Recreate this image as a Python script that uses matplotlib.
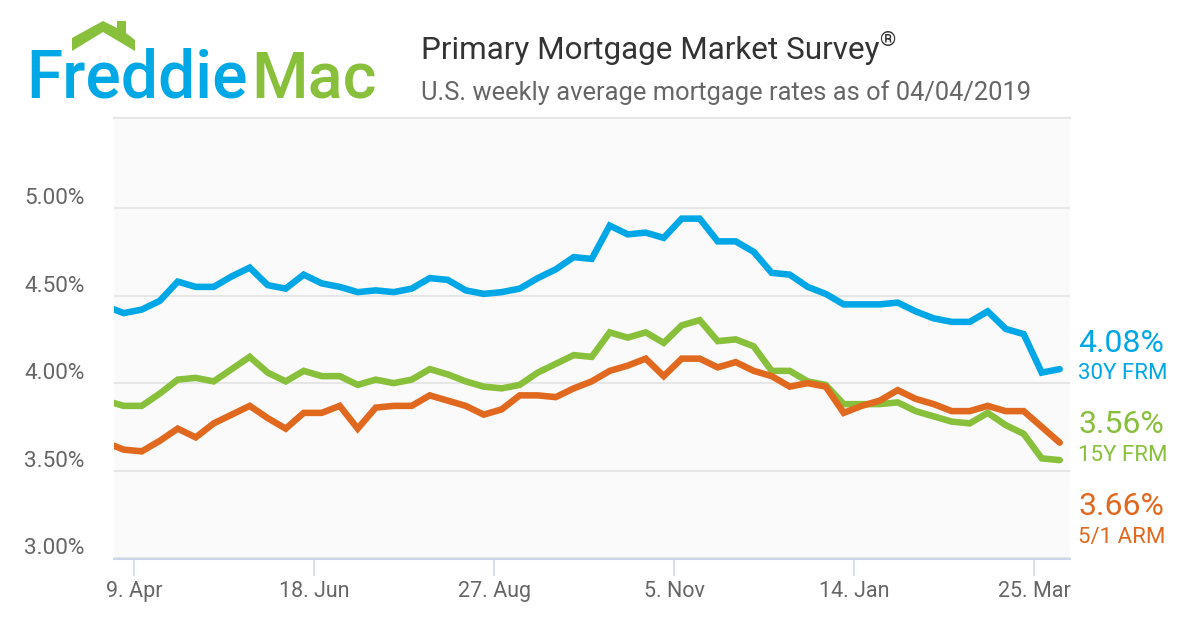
import matplotlib
matplotlib.use('Agg')
import matplotlib.pyplot as plt
import matplotlib.dates as mdates
import matplotlib.transforms as mtrans
from matplotlib.patches import Polygon
import pandas as pd

plt.rcParams['font.family'] = ['Roboto', 'DejaVu Sans']

W, H = 1200, 630

# weekly survey dates, thursdays
dates = pd.date_range('2018-03-29', '2019-04-04', freq='7D')

frm30 = [4.44, 4.40, 4.42, 4.47, 4.58, 4.55, 4.55, 4.61, 4.66, 4.56, 4.54, 4.62, 4.57, 4.55,
         4.52, 4.53, 4.52, 4.54, 4.60, 4.59, 4.53, 4.51, 4.52, 4.54, 4.60, 4.65, 4.72, 4.71,
         4.90, 4.85, 4.86, 4.83, 4.94, 4.94, 4.81, 4.81, 4.75, 4.63, 4.62, 4.55, 4.51, 4.45,
         4.45, 4.45, 4.46, 4.41, 4.37, 4.35, 4.35, 4.41, 4.31, 4.28, 4.06, 4.08]
frm15 = [3.90, 3.87, 3.87, 3.94, 4.02, 4.03, 4.01, 4.08, 4.15, 4.06, 4.01, 4.07, 4.04, 4.04,
         3.99, 4.02, 4.00, 4.02, 4.08, 4.05, 4.01, 3.98, 3.97, 3.99, 4.06, 4.11, 4.16, 4.15,
         4.29, 4.26, 4.29, 4.23, 4.33, 4.36, 4.24, 4.25, 4.21, 4.07, 4.07, 4.01, 3.99, 3.88,
         3.88, 3.88, 3.89, 3.84, 3.81, 3.78, 3.77, 3.83, 3.76, 3.71, 3.57, 3.56]
arm51 = [3.66, 3.62, 3.61, 3.67, 3.74, 3.69, 3.77, 3.82, 3.87, 3.80, 3.74, 3.83, 3.83, 3.87,
         3.74, 3.86, 3.87, 3.87, 3.93, 3.90, 3.87, 3.82, 3.85, 3.93, 3.93, 3.92, 3.97, 4.01,
         4.07, 4.10, 4.14, 4.04, 4.14, 4.14, 4.09, 4.12, 4.07, 4.04, 3.98, 4.00, 3.98, 3.83,
         3.87, 3.90, 3.96, 3.91, 3.88, 3.84, 3.84, 3.87, 3.84, 3.84, 3.75, 3.66]

y_ticks = [3.0, 3.5, 4.0, 4.5, 5.0]
y_labels = ['3.00%', '3.50%', '4.00%', '4.50%', '5.00%']
x_ticks = ['2018-04-09', '2018-06-18', '2018-08-27', '2018-11-05', '2019-01-14', '2019-03-25']
x_labels = ['9. Apr', '18. Jun', '27. Aug', '5. Nov', '14. Jan', '25. Mar']

BLUE = '#00a7e7'
GREEN = '#88bf3b'
ORANGE = '#e0691f'
GREY = '#666666'


def ftext(x, y, s, **kw):
    # place text by pixel position in the figure
    return fig.text(x / W, 1 - y / H, s, **kw)


fig = plt.figure(figsize=(W / 100, H / 100), dpi=100, facecolor='white')
ax = fig.add_axes([114 / W, 1 - 559 / H, (1070 - 114) / W, (559 - 118) / H], facecolor='#fafafa')

for vals, col in [(frm30, BLUE), (frm15, GREEN), (arm51, ORANGE)]:
    ax.plot(dates, vals, color=col, lw=4.7, solid_joinstyle='miter', solid_capstyle='round', zorder=3)

ax.set_ylim(2.995, 5.515)
# 9 Apr sits at px 134, 25 Mar at px 1034
t0 = mdates.date2num(pd.Timestamp('2018-04-09'))
t1 = mdates.date2num(pd.Timestamp('2019-03-25'))
per_px = (t1 - t0) / (1034 - 134)
ax.set_xlim(t0 - 20 * per_px, t0 + (1070 - 134) * per_px)

ax.set_yticks(y_ticks)
ax.set_yticklabels(y_labels)
ax.set_xticks([mdates.date2num(pd.Timestamp(d)) for d in x_ticks])
ax.set_xticklabels(x_labels)
ax.grid(axis='y', color='#e6e6e6', lw=1.5, zorder=1)
ax.set_axisbelow(True)

for s in ['left', 'right']:
    ax.spines[s].set_visible(False)
ax.spines['top'].set_color('#e6e6e6')
ax.spines['top'].set_linewidth(1.5)
ax.spines['bottom'].set_color('#ccd6eb')
ax.spines['bottom'].set_linewidth(1.5)

ax.tick_params(axis='x', length=12.5, width=1.1, color='#ccd6eb', labelsize=15.5, labelcolor=GREY, pad=3)
ax.tick_params(axis='y', length=0, labelsize=16.2, labelcolor=GREY, pad=64.8)
up = mtrans.ScaledTranslation(0, 12 / 100, fig.dpi_scale_trans)
for lab in ax.get_yticklabels():
    lab.set_ha('left')
    lab.set_transform(lab.get_transform() + up)

# logo
house = [(72, 51), (72, 38), (103, 21), (117, 28), (117, 21), (126, 21), (126, 33),
         (135, 40), (135, 51), (103, 32)]
fig.add_artist(Polygon([(x / W, 1 - y / H) for x, y in house], closed=True, color=GREEN,
                       transform=fig.transFigure, lw=0))
ftext(26, 98, 'Freddie', color='#00a9e6', fontsize=47.5, fontweight='medium', va='baseline', ha='left')
ftext(251, 98, 'Mac', color=GREEN, fontsize=46.5, fontweight='medium', va='baseline', ha='left')

# titles
ftext(421, 59, 'Primary Mortgage Market Survey', color='#333333', fontsize=22.7, va='baseline')
ftext(879, 46, '®', color='#333333', fontsize=15, va='baseline')
ftext(421, 100, 'U.S. weekly average mortgage rates as of 04/04/2019', color=GREY, fontsize=18.35, va='baseline')

# end labels
for y1, y2, big, small, col in [(352, 379, '4.08%', '30Y FRM', BLUE),
                                (433, 461, '3.56%', '15Y FRM', GREEN),
                                (515, 543, '3.66%', '5/1 ARM', ORANGE)]:
    ftext(1078, y1, big, color=col, fontsize=23, va='baseline')
    ftext(1078, y2, small, color=col, fontsize=16, va='baseline')

fig.savefig('out.png', dpi=100)
